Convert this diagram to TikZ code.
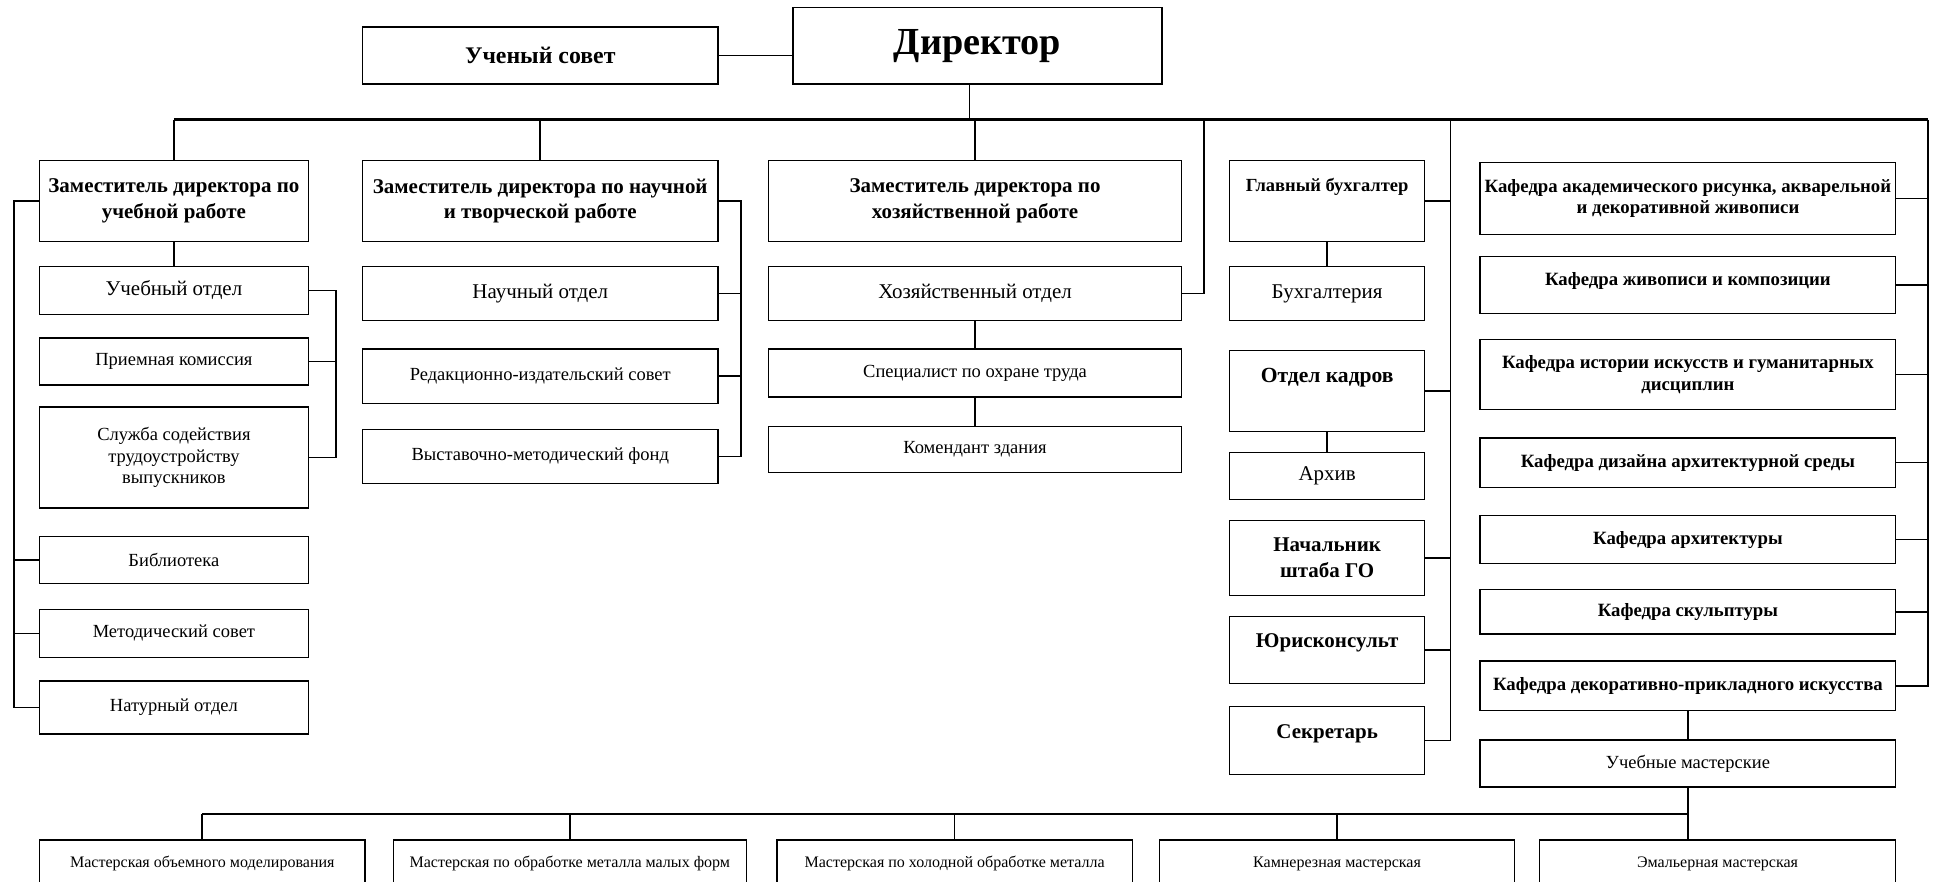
\documentclass[tikz,border=0pt]{standalone}
\usepackage{fontspec}
\setmainfont{Liberation Serif}
\usetikzlibrary{positioning}

\begin{document}
\begin{tikzpicture}[x=1pt, y=-1pt,
    box/.style={draw, line width=1.1pt, align=center, inner sep=1pt, font=\fontsize{15}{17.5}\selectfont},
    big/.style={font=\fontsize{17}{21}\selectfont},
    hdr/.style={font=\bfseries\fontsize{17}{21}\selectfont},
    kaf/.style={font=\bfseries\fontsize{15.2}{17.5}\selectfont},
    shop/.style={font=\fontsize{13}{16}\selectfont, raised=8, minimum height=44},
    raised/.style={text depth=#1},
    link/.style={line width=1.3pt},
    bus/.style={line width=2pt},
]
\useasboundingbox (0,0) rectangle (1568,715);
\clip (0,0) rectangle (1568,715);

% Top
\node[box, font=\bfseries\fontsize{19.3}{22}\selectfont, minimum width=288, minimum height=46] (sovet) at (438,45) {Ученый совет};
\node[box, font=\bfseries\fontsize{31}{36}\selectfont, minimum width=299, minimum height=62] (dir) at (792.5,37) {Директор};

% Column 1
\node[box, hdr, minimum width=218, minimum height=66] (zu) at (141,163) {Заместитель директора по\\учебной работе};
\node[box, big, minimum width=218, minimum height=39] (uo) at (141,235.5) {Учебный отдел};
\node[box, minimum width=218, minimum height=38] (pk) at (141,293) {Приемная комиссия};
\node[box, minimum width=218, minimum height=82] (sl) at (141,371) {Служба содействия\\трудоустройству\\выпускников};
\node[box, minimum width=218, minimum height=38] (bib) at (141,454) {Библиотека};
\node[box, minimum width=218, minimum height=39] (met) at (141,513.5) {Методический совет};
\node[box, minimum width=218, minimum height=43] (nat) at (141,573.5) {Натурный отдел};

% Column 2
\node[box, hdr, minimum width=288, minimum height=66] (zn) at (438,163) {Заместитель директора по научной\\и творческой работе};
\node[box, big, minimum width=288, minimum height=44] (no) at (438,238) {Научный отдел};
\node[box, minimum width=288, minimum height=44] (red) at (438,305) {Редакционно-издательский совет};
\node[box, minimum width=288, minimum height=44] (vys) at (438,370) {Выставочно-методический фонд};

% Column 3
\node[box, hdr, minimum width=335, minimum height=66] (zh) at (790.5,163) {Заместитель директора по\\хозяйственной работе};
\node[box, big, minimum width=335, minimum height=44] (ho) at (790.5,238) {Хозяйственный отдел};
\node[box, minimum width=335, minimum height=39] (spec) at (790.5,302.5) {Специалист по охране труда};
\node[box, minimum width=335, minimum height=37] (kom) at (790.5,364.5) {Комендант здания};

% Column 4
\node[box, font=\bfseries\fontsize{15}{18}\selectfont, raised=26, minimum width=158, minimum height=66] (gb) at (1076,163) {Главный бухгалтер};
\node[box, big, minimum width=158, minimum height=44] (bu) at (1076,238) {Бухгалтерия};
\node[box, font=\bfseries\fontsize{17.5}{21}\selectfont, raised=25, minimum width=158, minimum height=66] (ok) at (1076,317) {Отдел кадров};
\node[box, big, minimum width=158, minimum height=38] (ar) at (1076,386) {Архив};
\node[box, hdr, minimum width=158, minimum height=61] (ng) at (1076,452.5) {Начальник\\штаба ГО};
\node[box, hdr, raised=15, minimum width=158, minimum height=54] (yu) at (1076,527) {Юрисконсульт};
\node[box, hdr, raised=15, minimum width=158, minimum height=55] (se) at (1076,600.5) {Секретарь};

% Column 5
\node[box, kaf, minimum width=337, minimum height=58] (k1) at (1368.5,161) {Кафедра академического рисунка, акварельной\\и декоративной живописи};
\node[box, kaf, raised=9, minimum width=337, minimum height=46] (k2) at (1368.5,231) {Кафедра живописи и композиции};
\node[box, kaf, minimum width=337, minimum height=57] (k3) at (1368.5,303.5) {Кафедра истории искусств и гуманитарных\\дисциплин};
\node[box, kaf, minimum width=337, minimum height=40] (k4) at (1368.5,375) {Кафедра дизайна архитектурной среды};
\node[box, kaf, minimum width=337, minimum height=39] (k5) at (1368.5,437.5) {Кафедра архитектуры};
\node[box, kaf, minimum width=337, minimum height=36] (k6) at (1368.5,496) {Кафедра скульптуры};
\node[box, kaf, minimum width=337, minimum height=40] (k7) at (1368.5,556) {Кафедра декоративно-прикладного искусства};
\node[box, minimum width=337, minimum height=38] (um) at (1368.5,619) {Учебные мастерские};

% Workshops
\node[box, shop, minimum width=264] (m1) at (164,703) {Мастерская объемного моделирования};
\node[box, shop, minimum width=286] (m2) at (462,703) {Мастерская по обработке металла малых форм};
\node[box, shop, minimum width=288] (m3) at (774,703) {Мастерская по холодной обработке металла};
\node[box, shop, minimum width=288] (m4) at (1084,703) {Камнерезная мастерская};
\node[box, shop, minimum width=289] (m5) at (1392.5,703) {Эмальерная мастерская};

% Bus points
\coordinate (bL) at (141,97);
\coordinate (bR) at (1563,97);
\coordinate (vh) at (976,97);
\coordinate (v4) at (1176,97);
\coordinate (b2) at (164,660);

% Top links
\draw[link] (sovet.east) -- (sovet.east -| dir.west);
\draw[link] ([xshift=-6.5]dir.south) -- ([xshift=-6.5]dir.south |- bL);
\draw[bus] (bL) -- (bR);
\foreach \n in {zu,zn,zh} {
    \draw[link] (\n.north |- bL) -- (\n.north);
}

% Column 1 links
\draw[link] (zu.south) -- (uo.north);
\draw[link] (uo.east) -- ++(22,0) |- (sl.east);
\draw[link] (pk.east) -- ++(22,0);
\draw[link] (zu.west) -- ++(-20,0) |- (nat.west);
\foreach \n in {bib,met} {
    \draw[link] (\n.west) -- ++(-20,0);
}

% Column 2 links
\draw[link] (zn.east) -- ++(18,0) |- (vys.east);
\foreach \n in {no,red} {
    \draw[link] (\n.east) -- ++(18,0);
}

% Column 3 links
\draw[link] (ho.east) -| (vh);
\draw[link] (ho.south) -- (spec.north);
\draw[link] (spec.south) -- (kom.north);

% Column 4 links
\draw[link] (v4) |- (se.east);
\foreach \n in {gb,ok,ng,yu} {
    \draw[link] (\n.east) -- (\n.east -| v4);
}
\draw[link] (gb.south) -- (bu.north);
\draw[link] (ok.south) -- (ar.north);

% Column 5 links
\draw[link] (bR) |- (k7.east);
\foreach \n in {k1,k2,k3,k4,k5,k6} {
    \draw[link] (\n.east) -- (\n.east -| bR);
}
\draw[link] (k7.south) -- (um.north);

% Workshop links
\draw[link] (um.south) -- (um.south |- m5.north);
\draw[bus] (b2) -- (um.south |- b2);
\foreach \n in {m1,m2,m3,m4} {
    \draw[link] (\n.north |- b2) -- (\n.north);
}

\end{tikzpicture}
\end{document}
